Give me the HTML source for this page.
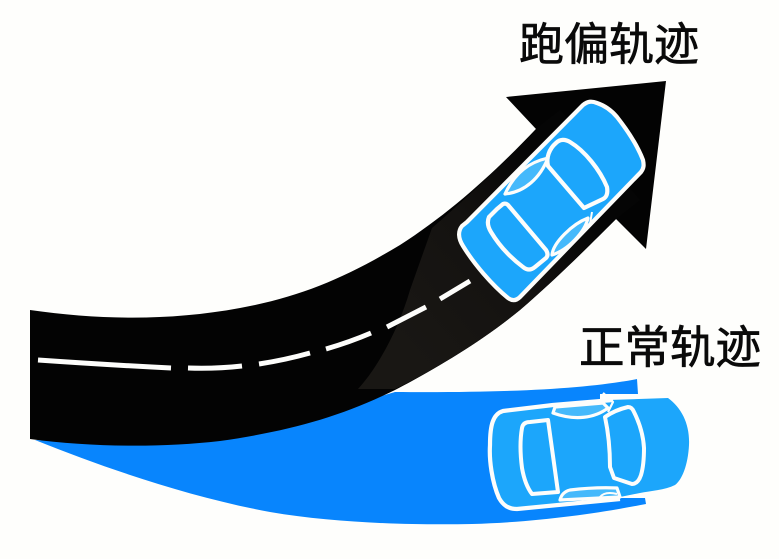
<!DOCTYPE html>
<html><head><meta charset="utf-8">
<style>
html,body{margin:0;padding:0;background:#fefefc;width:779px;height:559px;overflow:hidden}
svg{display:block}
text{font-family:"Liberation Sans","Noto Sans CJK SC",sans-serif;font-size:45px;fill:#0a0a0a;stroke:#0a0a0a;stroke-width:.7;font-weight:400}
</style></head>
<body>
<svg width="779" height="559" viewBox="0 0 779 559" xmlns="http://www.w3.org/2000/svg">
<defs>
<linearGradient id="patch" gradientUnits="userSpaceOnUse" x1="400" y1="340" x2="570" y2="190">
<stop offset="0" stop-color="#191714"/>
<stop offset=".55" stop-color="#141210"/>
<stop offset="1" stop-color="#050505"/>
</linearGradient>
</defs>
<rect width="779" height="559" fill="#fefefc"/>
<!-- blue road -->
<path d="M35 440 C110 470 190 497 270 512 C340 524 420 525 472 524 C540 522 600 513 646 504 L645 498 L600 498 L600 394 L638 394 L637 379 C590 388 520 393 395 392 L300 420 L140 445 Z" fill="#0885fd"/>
<!-- black road -->
<path d="M30 310 C100 320 170 321 240 308 C300 297 345 278 400 245 C450 213 495 172 536 129 L506 97 L666 81 L646 249 L616 219 C590 245 555 280 520 310 C480 343 430 372 395 390 C340 417 290 431 220 441 C160 448 90 447 30 439 Z" fill="#030303"/>
<!-- lighter patch -->
<path d="M358 389 C380 365 400 325 410 290 L432 228 C470 195 505 162 536 129 L560 110 L640 200 L616 219 C590 245 555 280 520 310 C480 343 430 372 395 389 Z" fill="url(#patch)"/>
<!-- dashes -->
<g fill="none" stroke="#fdfdfb" stroke-width="5">
<path d="M38 360 Q110 365 171 368"/>
<path d="M188 368 Q215 369 242 366"/>
<path d="M259 364 Q285 360 310 353"/>
<path d="M326 349 Q350 342 371 333"/>
<path d="M387 327 L426 307"/>
<path d="M440 299 L470 281"/>
</g>
<!-- upper car -->
<g stroke="#fdfdfb" stroke-width="4.2" stroke-linejoin="round" fill="none">
<path d="M462 226 L467 222 L583 105 C588 101 592 101 597 103 C606 106 612 111 617 117 C628 131 638 147 643 160 C644 165 644 168 641 172 L520 297 C516 301 512 301 508 298 C492 285 474 264 463 246 C458 238 458 231 462 226 Z" fill="#1ca6fb"/>
<path d="M556 143 C560 139 565 139 570 142 C585 151 600 170 607 187 C608 193 607 197 603 199 L584 208 L548 166 C546 158 549 149 556 143 Z" fill="#1ca6fb"/>
<path d="M497 209 L503 204 Q506 203 508 205 L546 250 Q549 255 546 258 L535 267 Q529 272 523 267 Q503 252 491 232 Q486 224 489 217 Z" fill="#1ca6fb"/>
<path d="M505 194 C525 192 540 178 548 158 C530 162 515 172 505 194 Z" fill="#45b9fb" stroke-width="3.2"/>
<path d="M552 255 C553 243 572 224 588 218 C585 232 568 250 552 255 Z" fill="#45b9fb" stroke-width="3.2"/>
<path d="M592 212 L590 224" stroke-width="2"/>
</g>
<!-- lower car -->
<path d="M503 411 L608 400 L668 398 C682 408 690 425 689 445 C688 465 682 480 675 485 C665 490 650 491 640 493 L620 497 L517 509 C508 509 503 505 499 498 C492 482 489 460 490 445 C490 425 493 414 503 411 Z" fill="#1ca6fb"/>
<g stroke="#fdfdfb" stroke-width="4.2" stroke-linejoin="round" fill="none">
<path d="M613 400 L553 405 L503 411 C493 414 490 425 490 445 C489 460 492 482 499 498 C503 505 508 509 517 509 L620 499"/>
<path d="M548 420 L530 422 Q523 422 522 428 Q519 445 522 468 Q525 485 532 494 L558 492 Z" fill="#1ca6fb" stroke-width="4"/>
<path d="M605 417 Q615 410 628 407 Q632 407 634 412 Q643 430 644 448 Q644 465 641 475 Q638 484 632 484 L614 478 L610 467 Q610 440 605 417 Z" fill="#1ca6fb" stroke-width="4"/>
<path d="M553 413 C575 421 595 418 608 408 L603 403 L555 407 Z" fill="#45b9fb" stroke-width="3.2"/>
<path d="M560 500 Q562 492 570 490 Q595 487 617 488 L620 497 Z" fill="#45b9fb" stroke-width="3.2"/>
<path d="M603 393 L613 402 L608 412" stroke-width="2.2"/>
<path d="M600 497 Q605 491 617 494" stroke-width="2"/>
</g>
<text x="519" y="60" textLength="180" lengthAdjust="spacingAndGlyphs">跑偏轨迹</text>
<text x="579" y="363" textLength="182" lengthAdjust="spacingAndGlyphs">正常轨迹</text>
</svg>
</body></html>
